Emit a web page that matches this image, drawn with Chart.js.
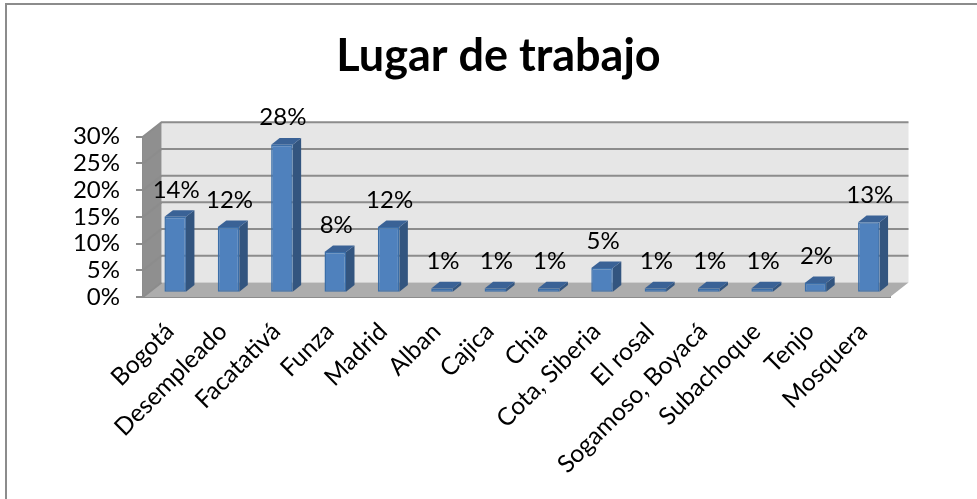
<!DOCTYPE html>
<html><head><meta charset="utf-8">
<style>html,body{margin:0;padding:0;background:#fff}#w{position:relative;width:977px;height:499px;overflow:hidden}canvas{display:block}
#f{position:absolute;left:5px;top:3px;width:1000px;height:520px;border:2px solid #8c8c8c;box-sizing:border-box;pointer-events:none}
body{overflow:hidden}</style>
<script src="https://cdn.jsdelivr.net/npm/chart.js@4/dist/chart.umd.min.js"></script>
</head><body><div id="w"><canvas id="c" width="977" height="499"></canvas><div id="f"></div></div>
<script>
const categories=["Bogotá","Desempleado","Facatativá","Funza","Madrid","Alban","Cajica","Chia","Cota, Siberia","El rosal","Sogamoso, Boyacá","Subachoque","Tenjo","Mosquera"];
const values=[14.2,12.3,27.7,7.6,12.3,0.8,0.8,0.8,4.6,0.8,0.8,0.8,1.8,13.2];
const yTicks=[0,5,10,15,20,25,30];
const titleText="Lugar de trabajo";
const FONT="Lato";
const BD={x:5.5,y:-4.3},WD={x:18.5,y:-14.5},FD={x:8.5,y:-6.6};
function quad(ctx,p,fill){ctx.beginPath();ctx.moveTo(p[0][0],p[0][1]);for(let i=1;i<p.length;i++)ctx.lineTo(p[i][0],p[i][1]);ctx.closePath();ctx.fillStyle=fill;ctx.fill();}
const threeD={id:'threeD',
 beforeDatasetsDraw(chart){
  const c=chart.ctx,a=chart.chartArea,y=chart.scales.y;
  c.save();
  const L=a.left,R=a.right,T=a.top,B=a.bottom;
  quad(c,[[L+WD.x,T+WD.y],[R+WD.x,T+WD.y],[R+WD.x,B+WD.y],[L+WD.x,B+WD.y]],'#e6e6e6');
  quad(c,[[L,T],[L+WD.x,T+WD.y],[L+WD.x,B+WD.y],[L,B]],'#8f8f8f');
  quad(c,[[L,B],[R,B],[R+WD.x,B+WD.y],[L+WD.x,B+WD.y]],'#adadad');
  c.strokeStyle='#8c8c8c';c.lineWidth=2;
  yTicks.forEach(t=>{const p=y.getPixelForValue(t);
    c.beginPath();c.moveTo(L,p);c.lineTo(L+WD.x,p+WD.y);
    if(t>0)c.lineTo(R+WD.x,p+WD.y);
    c.stroke();});
  c.restore();
 },
 beforeDatasetDraw(chart){
  const c=chart.ctx;c.save();c.translate(BD.x,BD.y);
  chart.getDatasetMeta(0).data.forEach(b=>{
   const l=b.x-b.width/2,r=b.x+b.width/2,t=b.y,bt=b.base;
   quad(c,[[r,t],[r+FD.x,t+FD.y],[r+FD.x,bt+FD.y],[r,bt]],'#33557f');
   quad(c,[[l,t],[l+FD.x,t+FD.y],[r+FD.x,t+FD.y],[r,t]],'#3a6296');
  });
 },
 afterDatasetDraw(chart){
  chart.ctx.restore();
 },
 afterDatasetsDraw(chart){
  const c=chart.ctx;c.save();
  c.font='24px '+FONT;c.fillStyle='#000';c.textAlign='center';c.textBaseline='middle';
  chart.getDatasetMeta(0).data.forEach((b,i)=>{
   c.fillText(Math.round(values[i])+'%',b.x+BD.x+1,b.y+BD.y-27);
  });
  c.restore();
 }};
new Chart(document.getElementById('c'),{
 type:'bar',
 data:{labels:categories,datasets:[{data:values,backgroundColor:'#4f81bd',borderColor:'#3b6ea8',borderWidth:1.5,borderSkipped:false,barPercentage:0.403,categoryPercentage:1,clip:false}]},
 plugins:[threeD],
 options:{responsive:false,animation:false,
  layout:{padding:{left:20,right:0,top:0,bottom:0}},
  plugins:{legend:{display:false},tooltip:{enabled:false},
   title:{display:true,text:titleText,color:'#000',font:{family:FONT,size:45,weight:'bold',lineHeight:1.2},padding:{top:29,bottom:53.7}}},
  scales:{
   x:{type:'category',offset:true,grid:{display:false},border:{display:true,color:'#8c8c8c',width:2},
      ticks:{font:{family:FONT,size:24.5},color:'#000',minRotation:45,maxRotation:45,autoSkip:false,padding:12},
      afterFit(s){s.height=202;}},
   y:{min:0,max:30,position:'left',
      grid:{drawOnChartArea:false,drawTicks:true,tickLength:7,color:'#8c8c8c',lineWidth:2},border:{display:true,color:'#8c8c8c',width:2},
      ticks:{stepSize:5,autoSkip:false,font:{family:FONT,size:24},color:'#000',padding:16,callback:v=>v+'%'},
      afterFit(s){s.width=123;}},
   r:{position:'right',display:true,grid:{display:false},border:{display:false},ticks:{display:false},afterFit(s){s.width=87;}}
  }}
});
</script></body></html>
